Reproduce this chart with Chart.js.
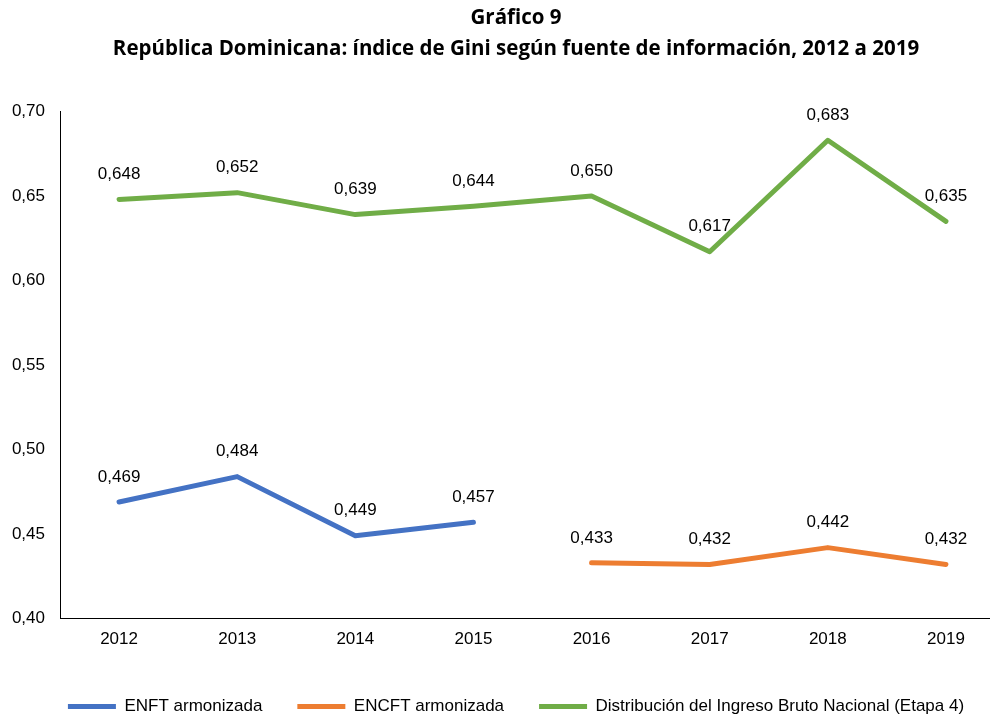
<!DOCTYPE html>
<html>
<head>
<meta charset="utf-8">
<script src="https://cdn.jsdelivr.net/npm/chart.js@4.4.1/dist/chart.umd.min.js"></script>
<style>
  html, body { margin: 0; padding: 0; background: #fff; overflow: hidden; }
  #wrap { position: relative; width: 1030px; height: 715px; }
</style>
</head>
<body>
<div id="wrap"><canvas id="chart"></canvas></div>
<script>
// data
const years = ["2012", "2013", "2014", "2015", "2016", "2017", "2018", "2019"];
const enft = [0.469, 0.484, 0.449, 0.457, null, null, null, null];
const encft = [null, null, null, null, 0.433, 0.432, 0.442, 0.432];
const ingreso = [0.648, 0.652, 0.639, 0.644, 0.650, 0.617, 0.683, 0.635];
const yTicks = [0.40, 0.45, 0.50, 0.55, 0.60, 0.65, 0.70];

const fmt = (v, d) => v.toFixed(d).replace(".", ",");

// labels above the points
const valueLabels = {
  id: "valueLabels",
  afterDatasetsDraw(chart) {
    const ctx = chart.ctx;
    ctx.save();
    ctx.font = "17px 'Liberation Sans', Arial, sans-serif";
    ctx.fillStyle = "#000";
    ctx.textAlign = "center";
    ctx.textBaseline = "middle";
    chart.data.datasets.forEach((ds, i) => {
      chart.getDatasetMeta(i).data.forEach((pt, j) => {
        if (ds.data[j] == null) return;
        ctx.fillText(fmt(ds.data[j], 3), pt.x, pt.y - 25);
      });
    });
    ctx.restore();
  }
};

// title + legend sit a bit right of the canvas centre in the original
const shiftBlocks = {
  id: "shiftBlocks",
  afterLayout(chart) {
    [chart.titleBlock, chart.legend].forEach(b => {
      if (!b) return;
      b.left += 13.5;
      b.right += 13.5;
    });
  }
};

function lineSet(label, data, color) {
  return {
    label: label,
    data: data,
    borderColor: color,
    backgroundColor: color,
    borderWidth: 5,
    borderCapStyle: "round",
    borderJoinStyle: "round",
    pointRadius: 0,
    pointHoverRadius: 0,
    tension: 0,
    spanGaps: false
  };
}

new Chart(document.getElementById("chart"), {
  type: "line",
  data: {
    labels: years,
    datasets: [
      lineSet("ENFT armonizada", enft, "#4472C4"),
      lineSet("ENCFT armonizada", encft, "#ED7D31"),
      lineSet("Distribución del Ingreso Bruto Nacional (Etapa 4)", ingreso, "#70AD47")
    ]
  },
  options: {
    responsive: true,
    maintainAspectRatio: false,
    animation: false,
    layout: { padding: { left: 0, right: 25, top: 3, bottom: -10 } },
    plugins: {
      title: {
        display: true,
        text: ["Gráfico 9", "República Dominicana: índice de Gini según fuente de información, 2012 a 2019"],
        color: "#000",
        font: { family: "'Open Sans', sans-serif", size: 20.5, weight: "bold", lineHeight: 1.5 },
        padding: { top: 0, bottom: 47 }
      },
      legend: {
        position: "bottom",
        labels: {
          color: "#000",
          font: { family: "'Liberation Sans', Arial, sans-serif", size: 17 },
          boxWidth: 48,
          boxHeight: 5,
          padding: 35,
          generateLabels(chart) {
            return Chart.defaults.plugins.legend.labels.generateLabels(chart).map(l => {
              l.lineWidth = 0;
              l.fillStyle = l.strokeStyle;
              return l;
            });
          }
        }
      },
      tooltip: { enabled: false }
    },
    scales: {
      x: {
        offset: true,
        grid: { display: false, drawTicks: false },
        border: { display: true, color: "#000", width: 1 },
        afterFit(scale) { scale.height += 2; },
        ticks: {
          color: "#000",
          padding: 11,
          font: { family: "'Liberation Sans', Arial, sans-serif", size: 17 }
        }
      },
      y: {
        min: 0.40,
        max: 0.70,
        afterBuildTicks(axis) { axis.ticks = yTicks.map(v => ({ value: v })); },
        afterFit(scale) { scale.width = 60; },
        grid: { display: false, drawTicks: false },
        border: { display: true, color: "#000", width: 1 },
        ticks: {
          color: "#000",
          padding: 15,
          font: { family: "'Liberation Sans', Arial, sans-serif", size: 17 },
          callback: v => fmt(v, 2)
        }
      }
    }
  },
  plugins: [valueLabels, shiftBlocks]
});
</script>
</body>
</html>
